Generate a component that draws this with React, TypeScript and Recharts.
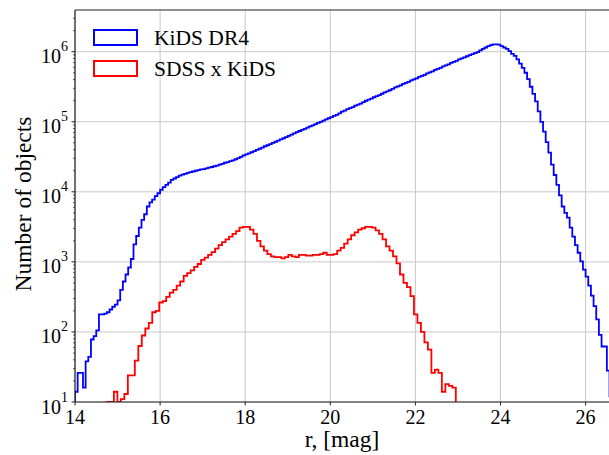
import React from 'react';
import { LineChart, Line, XAxis, YAxis, CartesianGrid } from 'recharts';

const W = 609;
const H = 455;
const SERIF = "'Liberation Serif', 'Times New Roman', 'DejaVu Serif', serif";

// KiDS DR4: counts per r-mag bin (bins start at 14.0, width 0.0625)
const kidsStart = 14.0;
const kidsWidth = 0.0625;
const kidsCounts = [
  14, 26, 26, 16, 38, 44, 78, 87, 105, 178,
  178, 182, 191, 209, 229, 245, 282, 398, 525, 661,
  832, 1100, 1780, 2340, 3090, 3980, 4790, 6170, 7080, 7760,
  8710, 9550, 10700, 11700, 12600, 13500, 14800, 15500, 16200, 17000,
  17600, 18000, 18600, 19100, 19500, 20000, 20400, 20900, 21100, 21600,
  22100, 22600, 23200, 23700, 24500, 25100, 26000, 26600, 27500, 28200,
  29200, 30200, 31600, 33100, 34300, 35500, 36700, 38000, 39800, 41200,
  42700, 44700, 46200, 47900, 50100, 51900, 53700, 56000, 58200, 60500,
  63100, 65600, 68200, 71000, 73800, 76700, 79400, 82600, 85900, 89100,
  92700, 96400, 100000, 104000, 108100, 112200, 116700, 121100, 125600, 131800,
  139600, 144500, 151400, 156700, 162200, 169800, 175800, 182000, 190500, 199500,
  206500, 213800, 223900, 231700, 239900, 251200, 263000, 272300, 281800, 295100,
  309000, 319900, 331100, 346700, 358900, 371500, 389000, 402700, 416900, 436500,
  451900, 467700, 489800, 507000, 524800, 549500, 568900, 588800, 616600, 638300,
  660700, 691800, 716100, 741300, 776200, 803500, 831800, 861000, 891300, 922600,
  955000, 988600, 1047000, 1096000, 1148000, 1202000, 1245000, 1274000, 1274000, 1259000,
  1202000, 1148000, 1096000, 1023000, 933000, 871000, 776000, 676000, 589000, 501000,
  407000, 316000, 251000, 195000, 141000, 100000, 72400, 51300, 36300, 24500,
  17400, 12600, 8910, 6170, 5010, 4270, 3090, 2290, 1740, 1350,
  1020, 776, 617, 457, 331, 234, 151, 91, 62, 62,
  28, 12,
];

// SDSS x KiDS: counts per bin (bins start at 14.75, width 0.082)
const sdssStart = 14.75;
const sdssWidth = 0.082;
const sdssCounts = [
  10, 10, 14, 10, 11, 13, 24, 24, 39, 63,
  89, 112, 135, 191, 200, 263, 275, 316, 363, 398,
  457, 525, 631, 692, 759, 851, 933, 1070, 1150, 1260,
  1380, 1550, 1740, 1910, 2090, 2290, 2510, 2750, 3090, 3160,
  3160, 2880, 2510, 2000, 1660, 1450, 1290, 1200, 1170, 1170,
  1120, 1170, 1260, 1200, 1170, 1260, 1260, 1230, 1230, 1260,
  1260, 1290, 1350, 1260, 1260, 1290, 1450, 1580, 1820, 2090,
  2400, 2630, 2880, 3020, 3160, 3160, 3090, 2820, 2510, 2090,
  1660, 1450, 1200, 955, 661, 501, 437, 324, 178, 135,
  100, 71, 56, 26, 29, 26, 14, 18, 17, 16,
];

const xTicks = [14, 16, 18, 20, 22, 24, 26];
const decades = [10, 100, 1000, 10000, 100000, 1000000];
const yMin = 10;
const yMax = 3.94e6;
const xMin = 14;
const xMax = 26.55;

// major + minor log ticks
const yTicks = decades
  .flatMap((d) => [1, 2, 3, 4, 5, 6, 7, 8, 9].map((k) => k * d))
  .filter((v) => v <= yMax);

// step outline like matplotlib histtype='step' (drops to the floor at both ends)
const FLOOR = 1;
function toSteps(start: number, width: number, counts: number[]) {
  const pts: { m: number; n: number }[] = [{ m: start, n: FLOOR }];
  counts.forEach((c, i) => pts.push({ m: start + i * width, n: c }));
  const end = start + counts.length * width;
  pts.push({ m: end, n: counts[counts.length - 1] });
  pts.push({ m: end, n: FLOOR });
  return pts;
}

const kidsSteps = toSteps(kidsStart, kidsWidth, kidsCounts);
const sdssSteps = toSteps(sdssStart, sdssWidth, sdssCounts);

const LogTick = (props: any) => {
  const { x, y, payload } = props;
  const v = payload.value;
  const exp = Math.round(Math.log10(v));
  const major = Math.abs(v - Math.pow(10, exp)) < 1e-6 * v;
  return (
    <g>
      <line
        x1={x - (major ? 3.5 : 2)}
        x2={x}
        y1={y}
        y2={y}
        stroke="#222"
        strokeWidth={major ? 1 : 0.7}
      />
      {major && (
        <text x={x - 7} y={y + 11.5} textAnchor="end" fontFamily={SERIF} fontSize={20} fill="#000">
          10
          <tspan dy={-12} fontSize={14}>
            {exp}
          </tspan>
        </text>
      )}
    </g>
  );
};

const XLabel = (props: any) => {
  const vb = props.viewBox || { x: 75, y: 402, width: 534, height: 53 };
  return (
    <text x={vb.x + vb.width / 2} y={vb.y + 45} textAnchor="middle" fontFamily={SERIF} fontSize={23.5} fill="#000">
      r, [mag]
    </text>
  );
};

const YLabel = (props: any) => {
  const vb = props.viewBox || { x: 0, y: 10, width: 75, height: 392 };
  const cx = vb.x + 31;
  const cy = vb.y + vb.height / 2 - 2;
  return (
    <text
      x={cx}
      y={cy}
      transform={`rotate(-90, ${cx}, ${cy})`}
      textAnchor="middle"
      fontFamily={SERIF}
      fontSize={23.5}
      fill="#000"
    >
      Number of objects
    </text>
  );
};

export default function App() {
  return (
    <div style={{ position: 'absolute', left: 0, top: 0, width: W, height: H, background: '#fff' }}>
      <LineChart width={W} height={H} margin={{ top: 10, right: 0, bottom: 0, left: 0 }}>
        <CartesianGrid stroke="#c8c8c8" strokeWidth={1} horizontalValues={decades} verticalValues={xTicks} />
        <XAxis
          type="number"
          dataKey="m"
          domain={[xMin, xMax]}
          allowDataOverflow
          ticks={xTicks}
          interval={0}
          height={53}
          tickSize={3.5}
          tickMargin={4}
          tick={{ fontFamily: SERIF, fontSize: 20, fill: '#000' }}
          tickLine={{ stroke: '#222' }}
          axisLine={{ stroke: '#222', strokeWidth: 1.2 }}
          label={{ content: XLabel }}
        />
        <YAxis
          type="number"
          dataKey="n"
          scale="log"
          domain={[yMin, yMax]}
          allowDataOverflow
          ticks={yTicks}
          interval={0}
          width={75}
          tickLine={false}
          tickSize={0}
          tickMargin={0}
          tick={(p: any) => <LogTick {...p} />}
          axisLine={{ stroke: '#222', strokeWidth: 1.2 }}
          label={{ content: YLabel }}
        />
        <Line
          data={sdssSteps}
          dataKey="n"
          name="SDSS x KiDS"
          type="stepAfter"
          stroke="#ff0000"
          strokeWidth={1.8}
          dot={false}
          isAnimationActive={false}
        />
        <Line
          data={kidsSteps}
          dataKey="n"
          name="KiDS DR4"
          type="stepAfter"
          stroke="#0000ff"
          strokeWidth={1.8}
          dot={false}
          isAnimationActive={false}
        />
      </LineChart>

      {/* legend (no frame) + top spine */}
      <svg
        width={W}
        height={H}
        style={{ position: 'absolute', left: 0, top: 0, pointerEvents: 'none' }}
      >
        <line x1={75} x2={W} y1={10} y2={10} stroke="#222" strokeWidth={1.2} />
        <rect x={94} y={30} width={43} height={15} fill="none" stroke="#0000ff" strokeWidth={2} />
        <text x={154} y={45} fontFamily={SERIF} fontSize={21.5} fill="#000">
          KiDS DR4
        </text>
        <rect x={94} y={61} width={43} height={15} fill="none" stroke="#ff0000" strokeWidth={2} />
        <text x={154} y={76} fontFamily={SERIF} fontSize={21.5} fill="#000">
          SDSS x KiDS
        </text>
      </svg>
    </div>
  );
}
